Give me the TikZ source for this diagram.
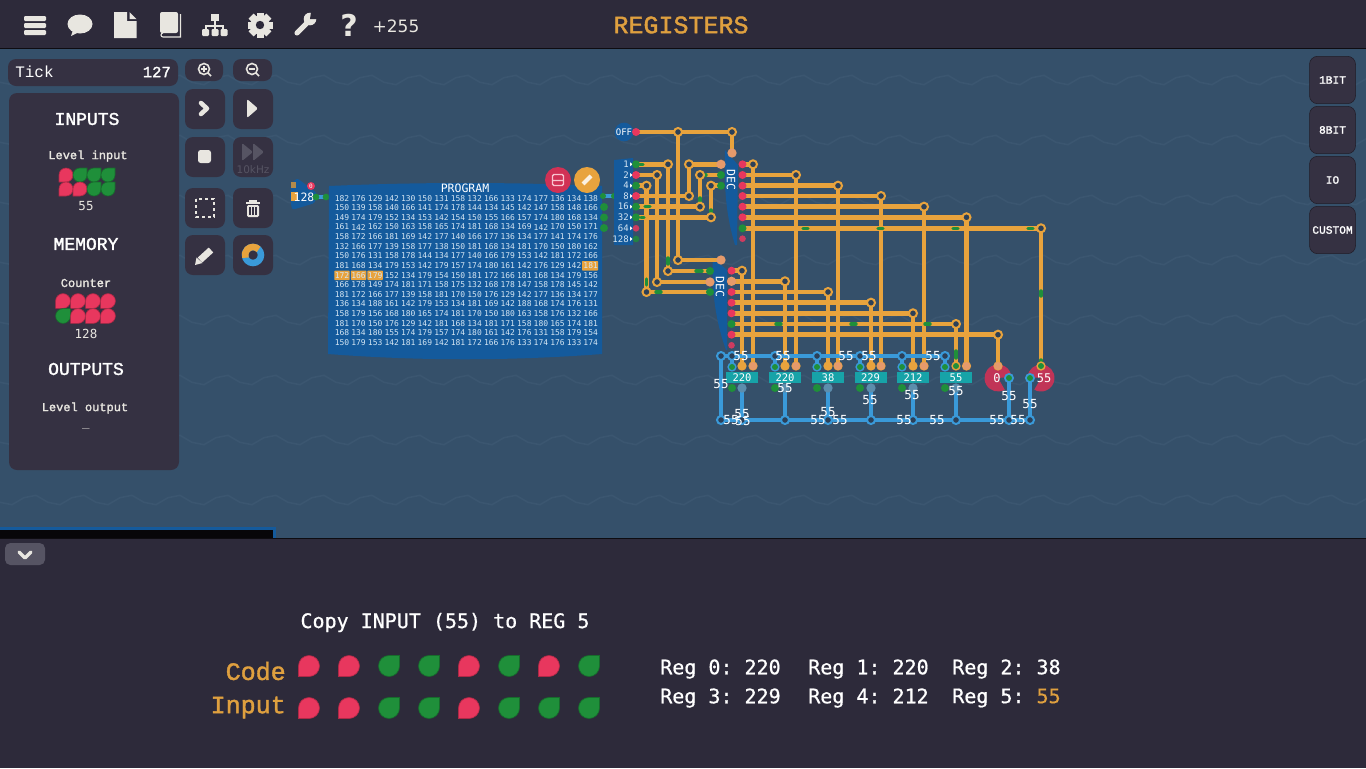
\documentclass[tikz,border=0pt]{standalone}
\usepackage{fontspec}
\setmainfont{Liberation Mono}
\newfontfamily\djm{DejaVu Sans Mono}
\newfontfamily\djs{DejaVu Sans}
\newfontfamily\lmd[BoldFont={Liberation Mono},BoldFeatures={FakeBold=1.6}]{Liberation Mono}
\newfontfamily\djd[BoldFont={DejaVu Sans Mono},BoldFeatures={FakeBold=0.7}]{DejaVu Sans Mono}
\usetikzlibrary{calc}
\newcommand\pxs[1]{\fontsize{\fpeval{0.75*#1}pt}{\fpeval{0.9*#1}pt}\selectfont}
\definecolor{bgc}{HTML}{35506A}
\definecolor{zigc}{HTML}{3B5670}
\definecolor{barc}{HTML}{2D2A3A}
\definecolor{panelc}{HTML}{353142}
\definecolor{iconc}{HTML}{E8E6E0}
\definecolor{wireo}{HTML}{E8A33D}
\definecolor{wireb}{HTML}{3A9AD9}
\definecolor{bitr}{HTML}{E8375E}
\definecolor{bitg}{HTML}{1F8F3A}
\definecolor{holec}{HTML}{2C4058}
\definecolor{blockc}{HTML}{145A9C}
\definecolor{regc}{HTML}{17A3A8}
\definecolor{pinm}{HTML}{E59A6B}
\definecolor{dimc}{HTML}{565463}
\definecolor{txto}{HTML}{DFA03F}
\definecolor{cellc}{HTML}{D5E6F3}
\newcommand\bitR[3]{\path[fill=bitr,draw=bitr!75!black,line width=.5pt] (#1-#3,#2+#3) -- (#1-#3,#2) arc (180:450:#3) -- cycle;}
\newcommand\bitG[3]{\path[fill=bitg,draw=bitg!75!black,line width=.5pt] (#1+#3,#2-#3) -- (#1+#3,#2) arc (0:270:#3) -- cycle;}
\tikzset{
  wo/.style={draw=wireo,line width=3.5pt,line cap=round,line join=round},
  wb/.style={draw=wireb,line width=3.5pt,line cap=round,line join=round},
  hl/.style={draw=bitg,line width=2.6pt,line cap=round},
  jo/.style={circle,fill=holec,draw=wireo,line width=1.5pt,minimum size=6pt,inner sep=0pt},
  jb/.style={circle,fill=holec,draw=wireb,line width=1.5pt,minimum size=6pt,inner sep=0pt},
  pr/.style={circle,fill=bitr,minimum size=6pt,inner sep=0pt},
  pg/.style={circle,fill=bitg,minimum size=6pt,inner sep=0pt},
  pm/.style={circle,fill=pinm,minimum size=7pt,inner sep=0pt},
  pd/.style={circle,fill=bitr!85!bgc,minimum size=5pt,inner sep=0pt},
  btn/.style={fill=panelc,rounded corners=6pt},
  wl/.style={text=white,font=\djm\pxs{12.5},inner sep=0pt},
  cellt/.style={text=cellc,font=\djm\pxs{8},inner sep=0pt},
  regb/.style={fill=regc,text=white,font=\djm\pxs{10.5},minimum width=24pt,minimum height=8.2pt,inner sep=0pt},
  head/.style={text=white,font=\lmd\bfseries\pxs{18},inner sep=0pt},
  sub/.style={text=iconc,font=\lmd\bfseries\pxs{12},inner sep=0pt},
  val/.style={text=iconc,font=\djm\pxs{12.5},inner sep=0pt},
  side/.style={fill=panelc,draw=black!40!panelc,rounded corners=6pt,text=white,font=\lmd\bfseries\pxs{11.2},minimum width=34.5pt,minimum height=35.5pt,inner sep=0pt},
  regt/.style={text=white,font=\djd\bfseries\frenchspacing\pxs{20},inner sep=0pt,anchor=west},
  splt/.style={text=cellc,font=\djm\pxs{9},inner sep=0pt,anchor=east},
}
\begin{document}
\begin{tikzpicture}[x=0.75pt,y=-0.75pt]
\useasboundingbox (0,0) rectangle (1366,768);
% background
\fill[bgc] (0,0) rectangle (1366,768);
\foreach \r in {80,140,...,500}
  \draw[zigc,line width=1.2pt] plot[domain=0:1392,samples=117] (\x,{\r-7*asin(sin(7.5*(\x-20)))/90});
% top bar
\fill[barc] (0,0) rectangle (1366,48);
\fill[black!70!barc] (0,47.5) rectangle (1366,49);
% top icons
\foreach \yy in {16,23,30} \fill[iconc,rounded corners=.8pt] (24,\yy) rectangle (46,\yy+5);
\fill[iconc] (80,24) ellipse (12.5 and 9.5);
\fill[iconc] (73,30) -- (71,36) -- (79,32) -- cycle;
\fill[iconc] (114,12) -- (127,12) -- (127,21) -- (136.5,21) -- (136.5,38) -- (114,38) -- cycle;
\fill[iconc] (129.5,12) -- (136.5,19) -- (129.5,19) -- cycle;
\fill[iconc,rounded corners=1.5pt] (160,12) rectangle (178,33);
\draw[iconc,line width=.8pt] (180.5,14) -- (180.5,37) -- (163,37) arc (90:270:2);
\fill[iconc] (211,14) rectangle (218.5,21);
\draw[iconc,line width=1.2pt] (214.7,21) -- (214.7,26) (206,31) -- (206,26) -- (223,26) -- (223,31) (214.7,26) -- (214.7,31);
\foreach \xx in {202,211.5,220.5} \fill[iconc,rounded corners=.8pt] (\xx,29) rectangle (\xx+7,36);
\foreach \a in {0,45,...,315} \fill[iconc,rotate around={\a:(260,25)}] (256.5,12.5) rectangle (263.5,37.5);
\fill[iconc] (260,25) circle (9.5);
\fill[barc] (260,25) circle (4.2);
\draw[iconc,line width=3.8pt,line cap=round] (297,33) -- (309,21);
\fill[iconc] (310,19) circle (6.3);
\fill[barc] (310,19) -- (311,12) -- (318,13) -- (317,19) -- cycle;
\node[text=iconc,font=\djs\bfseries\pxs{30},inner sep=0pt] (qm) at (349,25) {?};
\node[text=iconc,font=\djs\pxs{17},inner sep=0pt] (plus) at (396,26) {+255};
\node[text=txto,font=\lmd\bfseries\pxs{25},inner sep=0pt] (title) at (681,25) {REGISTERS};
% left panel
\fill[panelc,rounded corners=6pt] (8,59) rectangle (178,86);
\fill[panelc,rounded corners=6pt] (9,93) rectangle (179,470);
\node[text=white,font=\lmd\pxs{16},inner sep=0pt,anchor=west] (tick) at (15,72) {Tick};
\node[text=white,font=\lmd\bfseries\pxs{15.5},inner sep=0pt,anchor=east] (tickv) at (171,72) {127};
\node[head] (hin) at (87,119) {INPUTS};
\node[sub] (lin) at (88,156) {Level input};
\foreach \i/\xx/\yy/\s in {1/66/175/R,2/80/175/G,3/94/175/G,4/108/175/G,5/66/189/R,6/80/189/R,7/94/189/G,8/108/189/G}{
  \ifnum\pdfstrcmp{\s}{R}=0 \bitR{\xx}{\yy}{7}\else\bitG{\xx}{\yy}{7}\fi}
\node[val] (vin) at (86,206) {55};
\node[head] (hmem) at (86,244) {MEMORY};
\node[sub] (lcnt) at (86,283) {Counter};
\foreach \i/\xx/\yy/\s in {1/63/301/R,2/78/301/R,3/93/301/R,4/108/301/R,5/63/316/G,6/78/316/R,7/93/316/R,8/108/316/R}{
  \ifnum\pdfstrcmp{\s}{R}=0 \bitR{\xx}{\yy}{7.4}\else\bitG{\xx}{\yy}{7.4}\fi}
\node[val] (vcnt) at (86,334) {128};
\node[head] (hout) at (86,369) {OUTPUTS};
\node[sub] (lout) at (85,408) {Level output};
\node[val] (vout) at (86,428) {\_};
% tool buttons
\fill[btn] (185,59) rectangle (223,81);
\fill[btn] (233,59) rectangle (272,81);
\foreach \yy in {89,137,188,235} {\fill[btn] (185,\yy) rectangle (225,\yy+40); \fill[btn] (233,\yy) rectangle (273,\yy+40);}
\draw[iconc,line width=1.2pt] (204,69) circle (5.5) (208,73) -- (211,76);
\draw[iconc,line width=1pt] (201,69) -- (207,69) (204,66) -- (204,72);
\draw[iconc,line width=1.2pt] (252,69) circle (5.5) (256,73) -- (259,76);
\draw[iconc,line width=1pt] (249,69) -- (255,69);
\draw[iconc,line width=3.4pt,line join=round,line cap=round] (201,103) -- (207,108.5) -- (201,114);
\fill[iconc,rounded corners=1.5pt] (247,99) -- (258,108.5) -- (247,118) -- cycle;
\fill[iconc,rounded corners=2pt] (198,150) rectangle (211,163);
\fill[dimc,rounded corners=1pt] (242,143) -- (253,152) -- (242,161) -- cycle;
\fill[dimc,rounded corners=1pt] (253,143) -- (264,152) -- (253,161) -- cycle;
\node[text=dimc,font=\djs\pxs{10.5},inner sep=0pt] (khz) at (253,170) {10kHz};
\draw[iconc,line width=2pt,dash pattern=on 2.4pt off 2.1pt] (196,199) rectangle (214,217);
\fill[iconc] (246,202) rectangle (260,204);
\draw[iconc,line width=1pt] (250,202) -- (250,201) -- (256,201) -- (256,202);
\fill[iconc,rounded corners=1pt] (247,205) rectangle (259,217);
\foreach \xx in {250,253,256} \fill[panelc] (\xx-.6,207) rectangle (\xx+.6,215);
\draw[iconc,line width=5pt] (200,260) -- (211,250);
\fill[iconc] (195,265) -- (196.5,257.5) -- (202.5,263) -- cycle;
\draw[wireb,line width=4.9pt] (253,255) circle (8);
\draw[wireo,line width=4.9pt] (253,255) ++(-45:8) arc (-45:-200:8);
% right buttons
\node[side] (b1) at (1332.5,80) {1BIT};
\node[side] (b2) at (1332.5,130) {8BIT};
\node[side] (b3) at (1332.5,180) {IO};
\node[side] (b4) at (1332.5,230) {CUSTOM};
% bottom
\fill[blockc] (0,527) rectangle (275.5,538);
\fill[black!85!barc] (0,530) rectangle (273,538);
\fill[barc] (0,538) rectangle (1366,768);
\fill[black!70!barc] (0,537.5) rectangle (1366,539);
\fill[dimc,rounded corners=4pt] (5,543) rectangle (45,565);
\draw[iconc,line width=2.5pt,line cap=round,line join=round] (19,552) -- (25,558) -- (31,552);
\node[text=white,font=\djd\bfseries\frenchspacing\pxs{20},inner sep=0pt] (desc) at (445,622.5) {Copy INPUT (55) to REG 5};
\node[text=txto,font=\lmd\bfseries\pxs{25},inner sep=0pt,anchor=east] (lcode) at (286,671) {Code};
\node[text=txto,font=\lmd\bfseries\pxs{25},inner sep=0pt,anchor=east] (linp) at (286,707.5) {Input};
\bitR{309}{666}{10.5}\bitR{349}{666}{10.5}\bitG{389}{666}{10.5}\bitG{429}{666}{10.5}\bitR{469}{666}{10.5}\bitG{509}{666}{10.5}\bitR{549}{666}{10.5}\bitG{589}{666}{10.5}
\bitR{309}{708}{10.5}\bitR{349}{708}{10.5}\bitG{389}{708}{10.5}\bitG{429}{708}{10.5}\bitR{469}{708}{10.5}\bitG{509}{708}{10.5}\bitG{549}{708}{10.5}\bitG{589}{708}{10.5}
\node[regt] (r0t) at (660,669) {Reg 0: 220};
\node[regt] (r1t) at (808,669) {Reg 1: 220};
\node[regt] (r2t) at (952,669) {Reg 2: 38};
\node[regt] (r3t) at (660,698) {Reg 3: 229};
\node[regt] (r4t) at (808,698) {Reg 4: 212};
\node[regt] (r5t) at (952,698) {Reg 5: \textcolor{txto}{55}};
% counter block
\fill[blockc,rounded corners=2pt] (297,178) -- (317,193) -- (315,203) -- (292,210) -- (290,197) -- (291,184) -- cycle;
\fill[wireo!70!bgc] (291,182) rectangle (296,188);
\fill[wireo] (291,192) rectangle (298,201);
\node[circle,fill=bitr,text=white,font=\djm\pxs{6},minimum size=6pt,inner sep=0pt] (cz) at (311,186) {0};
\node[text=white,font=\djm\pxs{11.5},inner sep=0pt] (cn) at (304,197) {128};
\coordinate (cp1) at (316,197); \coordinate (cp2) at (326,197);
\draw[wb] (cp1) -- (cp2);
\node[circle,fill=bitg,minimum size=5pt,inner sep=0pt] at (cp1) {};
\node[circle,fill=bitg,minimum size=5pt,inner sep=0pt] at (cp2) {};
% program block
\fill[blockc] (329,186) .. controls (420,182) and (510,182) .. (602,186) -- (602,354) .. controls (510,361) and (420,361) .. (328,354) -- cycle;
\node[text=white,font=\djm\pxs{11.5},inner sep=0pt] (prog) at (465,188) {PROGRAM};
\fill[wireo,rounded corners=.5pt] (582,261) rectangle (598,270.6);
\foreach \c in {0,1,2} \fill[wireo,rounded corners=.5pt] (334.3+\c*16.58,270.6) rectangle (349.7+\c*16.58,280);
\foreach \rw [count=\r from 0] in {
{182,176,129,142,130,150,131,158,132,166,133,174,177,136,134,138},
{150,139,158,140,166,141,174,178,144,134,145,142,147,158,148,166},
{149,174,179,152,134,153,142,154,150,155,166,157,174,180,168,134},
{161,142,162,150,163,158,165,174,181,168,134,169,142,170,150,171},
{158,172,166,181,169,142,177,140,166,177,136,134,177,141,174,176},
{132,166,177,139,158,177,138,150,181,168,134,181,170,150,180,162},
{150,176,131,158,178,144,134,177,140,166,179,153,142,181,172,166},
{181,168,134,179,153,142,179,157,174,180,161,142,176,129,142,181},
{172,166,179,152,134,179,154,150,181,172,166,181,168,134,179,156},
{166,178,149,174,181,171,158,175,132,168,178,147,158,178,145,142},
{181,172,166,177,139,158,181,170,150,176,129,142,177,136,134,177},
{136,134,188,161,142,179,153,134,181,169,142,188,168,174,176,131},
{158,179,156,168,180,165,174,181,170,150,180,163,158,176,132,166},
{181,170,150,176,129,142,181,168,134,181,171,158,180,165,174,181},
{168,134,180,155,174,179,157,174,180,161,142,176,131,158,179,154},
{150,179,153,142,181,169,142,181,172,166,176,133,174,176,133,174}}{
  \foreach \v [count=\c from 0] in \rw
    \node[cellt] (cell\r-\c) at ({342+16.58*\c},{198.2+9.62*\r}) {\v};
}
\node[circle,fill=bitr!90!black,minimum size=19.5pt,inner sep=0pt] (savebtn) at (558,180) {};
\node[circle,fill=wireo,minimum size=19.5pt,inner sep=0pt] (editbtn) at (587,180) {};
\draw[bitr!30!white,line width=1pt,rounded corners=1pt] (552.5,174.5) rectangle (563.5,185.5) (552.5,180.5) -- (563.5,180.5);
\draw[white!85!wireo,line width=3pt] (583,184) -- (591,176);
\coordinate (po1) at (603,196); \coordinate (po2) at (614,196);
\draw[wb] (po1) -- (po2);
\foreach \yy in {207,217.5,228} \fill[bitg] (604,\yy) circle (4);
\fill[bitg] (603,196) circle (3); \fill[bitg] (614,196) circle (3);
% splitter block
\fill[blockc] (614,160) -- (633,158) -- (633,245) -- (614,245) -- cycle;
\foreach \t/\yy in {1/164.3,2/175,4/185.7,8/196,16/206.7,32/217.3,64/228.3,128/239}{
  \node[splt] at (629,\yy) {\t};
  \fill[white] (630,\yy-2) -- (632.5,\yy) -- (630,\yy+2) -- cycle;
}
% DEC blocks
\fill[blockc] (725,150) -- (738,165) -- (737,245) -- (735,245) .. controls (726,215) and (724,190) .. cycle;
\node[rotate=-90,text=white,font=\djm\pxs{11.5},inner sep=0pt] (dec1) at (731,180) {DEC};
\fill[blockc] (713,258) -- (727,270) -- (727,350) -- (726,350) .. controls (715,320) and (711,285) .. cycle;
\node[rotate=-90,text=white,font=\djm\pxs{11.5},inner sep=0pt] (dec2) at (720,287) {DEC};
% coordinates of pins and joints
\foreach \n/\xx/\yy in {
 off/636/132,off1/678/132,off2/732/132,offt/732/153,off3/678/260,db0/721/260,
 s1/636/164.3,s2/636/175,s3/636/185.7,s4/636/196,s5/636/206.7,s6/636/217.3,s7/636/228.3,s8/636/239,
 w1/668/164.3,w1b/668/271,d1/710/271,
 w2/657/175,w2b/657/282,d2/710/282,
 w3/646.5/185.7,w3b/646.5/292,d3/710/292,
 w4/689/196,w4b/689/164.3,t1/721/164.3,
 w5/700/206.7,w5b/700/175,t2/721/175,
 w6/711/217.3,w6b/711/185.7,t3/721/185.7,
 a1/742.5/164.3,a2/742.5/175,a3/742.5/185.7,a4/742.5/196,a5/742.5/206.7,a6/742.5/217.3,a7/742.5/228.3,a8/742.5/238.7,
 ja1/753/164.3,ja2/796/175,ja3/838/185.7,ja4/881/196,ja5/924/206.7,ja6/966.5/217.3,ja7/1041/228.3,
 pa1/753/366,pa2/796/366,pa3/838/366,pa4/881/366,pa5/924/366,pa6/966.5/366,pa7/1041/366,
 b1p/731.5/270.7,b2p/731.5/281.3,b3p/731.5/292,b4p/731.5/302.7,b5p/731.5/313.3,b6p/731.5/324,b7p/731.5/334.7,b8p/731.5/345.3,
 jb1/742/270.7,jb2/785/281.3,jb3/828/292,jb4/871/302.7,jb5/913/313.3,jb6/956/324,jb7/998/334.7,
 pb1/742/366,pb2/785/366,pb3/828/366,pb4/871/366,pb5/913/366,pb6/956/366,pb7/998/366,
 l1/721/356,l2/721/420,tb6/945/356,br/1030/420,
 u1/732/356,u2/775/356,u3/817/356,u4/860/356,u5/902/356,u6/945/356,
 g1/732/367,g2/775/367,g3/817/367,g4/860/367,g5/902/367,g6/945/367,
 q1/742/388,q2/785/388,q3/828/388,q4/871/388,q5/913/388,q6/956/388,
 v1/742/420,v2/785/420,v3/828/420,v4/871/420,v5/913/420,v6/956/420,v7/1009/420,v8/1030/420,
 o1/1009/378,o2/1030/378}
  \coordinate (\n) at (\xx,\yy);
% orange wires
\foreach \i in {1,...,7} \draw[wo] (a\i) -- (ja\i) -- (pa\i);
\foreach \i in {1,...,7} \draw[wo] (b\i p) -- (jb\i) -- (pb\i);
\draw[wo] (off) -- (off2) -- (offt);
\draw[wo] (off1) -- (off3) -- (db0);
\draw[wo] (s1) -- (w1) -- (w1b) -- (d1);
\draw[wo] (s2) -- (w2) -- (w2b) -- (d2);
\draw[wo] (s3) -- (w3) -- (w3b) -- (d3);
\draw[wo] (s4) -- (w4) -- (w4b) -- (t1);
\draw[wo] (s5) -- (w5) -- (w5b) -- (t2);
\draw[wo] (s6) -- (w6) -- (w6b) -- (t3);
% green pulses
\foreach \xa/\ya/\xb/\yb in {640/164.3/643/164.3,668/258/668/264,696/271/702/271,646.5/279/646.5/285,656/292/661/292,
 645/206.7/650/206.7,641/217.3/644/217.3,700/198/700/201,705/175/706/175,711/210/711/212,
 803/228.3/808/228.3,878/228.3/883/228.3,953/228.3/958/228.3,1028/228.3/1033/228.3,1041/291/1041/296,1041/360/1041/362,
 776/324/781/324,851/324/856/324,925/324/930/324,956/351/956/358}
  \draw[hl] (\xa,\ya) -- (\xb,\yb);
% blue wires
\draw[wb] (tb6) -- (l1) -- (l2) -- (br);
\foreach \i in {1,...,6} \draw[wb] (u\i) -- (g\i);
\foreach \i in {1,...,6} \draw[wb] (q\i) -- (v\i);
\draw[wb] (o1) -- (v7);
\draw[wb] (o2) -- (v8);
% registers
\node[regb] (reg0) at (742,377.5) {220};
\node[regb] (reg1) at (785,377.5) {220};
\node[regb] (reg2) at (828,377.5) {38};
\node[regb] (reg3) at (870.5,377.5) {229};
\node[regb] (reg4) at (913,377.5) {212};
\node[regb] (reg5) at (956,377.5) {55};
% output lamps
\fill[bitr!90!black,opacity=.9] (998,378) ++(60:13.5) arc (60:355:13.5) -- (998,378) -- cycle;
\fill[bitr!90!black,opacity=.9] (1041,378) ++(185:13.5) arc (185:480:13.5) -- (1041,378) -- cycle;
\node[text=white,font=\djm\pxs{12},inner sep=0pt] (out0) at (997,378) {0};
\node[text=white,font=\djm\pxs{12},inner sep=0pt] (out1) at (1044,378) {55};
% pins
\node[circle,fill=blockc,minimum size=14pt,inner sep=0pt] (offb) at (624,132) {};
\node[text=white,font=\djm\pxs{9},inner sep=0pt] (offl) at (624,132) {OFF};
\node[pr] at (off) {};
\foreach \n in {off1,off2,w1,w1b,w2,w2b,w3,w3b,w4,w4b,w5,w5b,w6,w6b,off3,
  ja1,ja2,ja3,ja4,ja5,ja6,ja7,jb1,jb2,jb3,jb4,jb5,jb6,jb7} \node[jo] at (\n) {};
\foreach \n in {s1,s3,s5,s6,a7,b6p,d1,d3,t2,t3} \node[pg] at (\n) {};
\foreach \n in {s2,s4,a1,a2,a3,a4,a5,a6,b1p,b3p,b4p,b5p,b7p} \node[pr] at (\n) {};
\foreach \n in {offt,t1,db0,d2,b2p} \node[pm] at (\n) {};
\node[pd] at (s7) {}; \node[circle,fill=bitg!80!bgc,minimum size=5pt,inner sep=0pt] at (s8) {};
\node[pd] at (a8) {}; \node[pd] at (b8p) {};
\foreach \n in {pa1,pa2,pa3,pa4,pa5,pa6,pb1,pb2,pb3,pb4,pb5,pb7} \node[circle,fill=wireo,minimum size=7pt,inner sep=0pt] at (\n) {};
\foreach \n in {pa1,pa2,pa3,pa4,pa5,pa6,pb7} \node[circle,fill=pinm,minimum size=6pt,inner sep=0pt] at (\n) {};
\node[circle,fill=wireo,minimum size=7pt,inner sep=0pt] at (pb6) {}; \node[pg,minimum size=4.5pt] at (pb6) {};
\node[circle,fill=wireo,minimum size=7pt,inner sep=0pt] at (pa7) {}; \node[pg,minimum size=4.5pt] at (pa7) {};
\foreach \n in {l1,l2,u1,u2,u3,u4,u5,u6,v1,v2,v3,v4,v5,v6,v7,v8} \node[jb] at (\n) {};
\foreach \n in {g1,g2,g3,g4,g5,g6} {\node[circle,fill=wireb,minimum size=7pt,inner sep=0pt] at (\n) {}; \node[pg,minimum size=4.5pt] at (\n) {};}
\foreach \xx in {732,775,817,860,902,945} \fill[bitg] (\xx,388) circle (4);
\foreach \n in {q1,q2,q3,q4,q5,q6} \node[circle,fill=wireb!50!gray,minimum size=7pt,inner sep=0pt] at (\n) {};
\foreach \n in {o1,o2} {\node[circle,fill=wireb,minimum size=7.5pt,inner sep=0pt] at (\n) {}; \node[pg,minimum size=4.5pt] at (\n) {};}
% wire labels
\foreach \i/\xx/\yy in {1/741/356,2/783/356,3/846/356,4/869/356,5/933/356,6/721/384,7/785/388,8/742/414,9/828/412,10/870/400,11/912/395,12/956/391,13/1009/396,14/1030/404,15/731/420,16/743/421,17/818/420,18/840/420,19/904/420,20/937/420,21/997/420,22/1018/420}
  \node[wl] (lab\i) at (\xx,\yy) {55};
\end{tikzpicture}
\end{document}
